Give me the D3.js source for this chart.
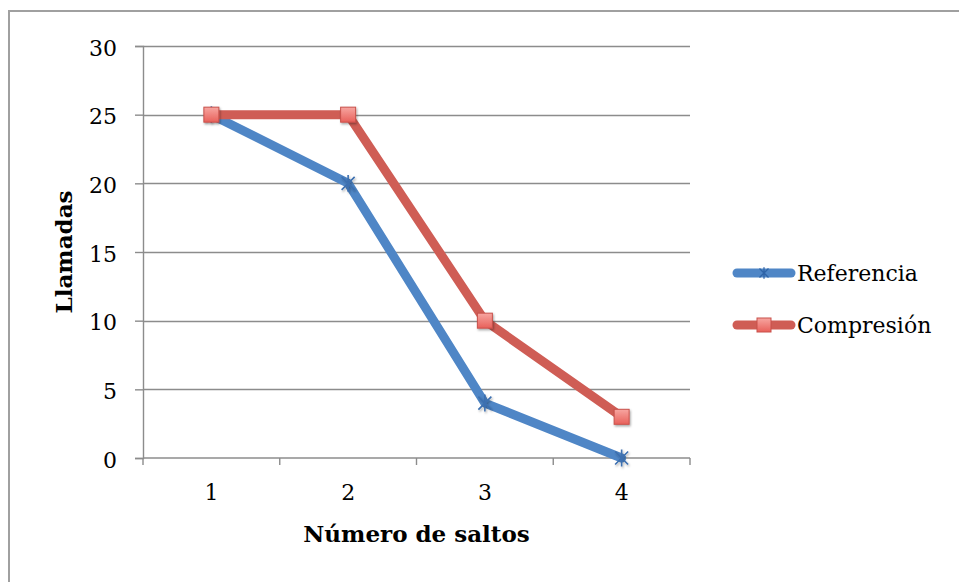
<!DOCTYPE html>
<html>
<head>
<meta charset="utf-8">
<script src="https://cdn.jsdelivr.net/npm/d3@7"></script>
<style>
  body { margin: 0; background: #fff; }
  svg { display: block; }
  text { font-family: "DejaVu Serif", "Liberation Serif", serif; fill: #000; }
</style>
</head>
<body>
<div class="chart-wrapper"></div>
<script>
const categories = ['1', '2', '3', '4']
const referencia = [25, 20, 4, 0]
const compresion = [25, 25, 10, 3]
const yTicks = [0, 5, 10, 15, 20, 25, 30]
const seriesNames = ['Referencia', 'Compresión']

let width = 959
let height = 582

let margin = {left: 143, right: 269, top: 46, bottom: 124}

let fontSize = 22
let lineWidth = 9

let svg = d3.select('.chart-wrapper').append('svg')
.attr('width', width)
.attr('height', height)

// drop shadow for markers
let defs = svg.append('defs')
defs.append('filter')
.attr('id', 'shadow')
.attr('x', '-50%').attr('y', '-50%').attr('width', '200%').attr('height', '200%')
.append('feDropShadow')
.attr('dx', 1).attr('dy', 1.5).attr('stdDeviation', 1.2)
.attr('flood-color', '#000').attr('flood-opacity', 0.35)

let grad = defs.append('linearGradient')
.attr('id', 'redfill')
.attr('x1', 0).attr('y1', 0).attr('x2', 0).attr('y2', 1)
grad.append('stop').attr('offset', '0%').attr('stop-color', '#f7a6a1')
grad.append('stop').attr('offset', '100%').attr('stop-color', '#e8605a')

// outer frame (right and bottom edges fall outside the picture)
svg.append('rect')
.attr('x', 9).attr('y', 11)
.attr('width', 1000).attr('height', 700)
.attr('fill', 'none')
.attr('stroke', '#a0a0a0')
.attr('stroke-width', 2)

let x = d3.scaleBand()
.domain(categories)
.range([margin.left, width - margin.right])
.padding(0)

let y = d3.scaleLinear()
.domain([0, 30])
.range([height - margin.bottom, margin.top])

// gridlines
svg.append('g')
.selectAll('line')
.data(yTicks.filter(d => d > 0))
.enter()
.append('line')
.attr('x1', margin.left)
.attr('x2', width - margin.right)
.attr('y1', d => Math.round(y(d)) + 0.5)
.attr('y2', d => Math.round(y(d)) + 0.5)
.attr('stroke', '#8c8c8c')
.attr('stroke-width', 1.4)

// y axis
let yAxis = svg.append('g')
.attr('transform', 'translate(' + margin.left + ',0)')
.call(d3.axisLeft(y).tickValues(yTicks).tickSize(8).tickPadding(18))
yAxis.select('.domain').attr('stroke', '#8c8c8c').attr('stroke-width', 1.4)
yAxis.selectAll('.tick line').attr('stroke', '#8c8c8c').attr('stroke-width', 1.4)
yAxis.selectAll('.tick text')
.attr('font-size', fontSize)
.attr('dy', '0.42em')
.attr('fill', '#000')

// x axis
let xAxisG = svg.append('g')
.attr('transform', 'translate(0,' + y(0) + ')')
xAxisG.append('line')
.attr('x1', margin.left).attr('x2', width - margin.right)
.attr('y1', 0).attr('y2', 0)
.attr('stroke', '#8c8c8c').attr('stroke-width', 1.4)
let boundaries = categories.map(c => x(c)).concat([x(categories[categories.length - 1]) + x.bandwidth()])
xAxisG.selectAll('.xtick')
.data(boundaries)
.enter()
.append('line')
.attr('x1', d => d).attr('x2', d => d)
.attr('y1', 0).attr('y2', 7)
.attr('stroke', '#8c8c8c').attr('stroke-width', 1.4)
xAxisG.selectAll('.xlabel')
.data(categories)
.enter()
.append('text')
.attr('x', d => x(d) + x.bandwidth() / 2)
.attr('y', 36)
.attr('text-anchor', 'middle')
.attr('dominant-baseline', 'middle')
.attr('font-size', fontSize)
.text(d => d)

// axis titles
svg.append('text')
.attr('transform', 'translate(66,' + (margin.top + (height - margin.bottom - margin.top) / 2) + ') rotate(-90)')
.attr('text-anchor', 'middle')
.attr('dominant-baseline', 'middle')
.attr('font-size', 23)
.attr('font-weight', 'bold')
.text('Llamadas')

svg.append('text')
.attr('x', margin.left + (width - margin.right - margin.left) / 2)
.attr('y', 536)
.attr('text-anchor', 'middle')
.attr('dominant-baseline', 'middle')
.attr('font-size', 23)
.attr('font-weight', 'bold')
.text('Número de saltos')

// series
let line = d3.line()
.x((d, i) => x(categories[i]) + x.bandwidth() / 2)
.y(d => y(d))

let blue = '#4f86c6'
let red = '#cf5d55'

function starPath(s){
	return 'M' + (-s) + ',' + (-s) + 'L' + s + ',' + s +
	'M' + (-s) + ',' + s + 'L' + s + ',' + (-s) +
	'M0,' + (-s * 1.3) + 'L0,' + (s * 1.3)
}

let refG = svg.append('g')
refG.append('path')
.attr('d', line(referencia))
.attr('fill', 'none')
.attr('stroke', blue)
.attr('stroke-width', lineWidth)
.attr('stroke-linejoin', 'round')
.attr('stroke-linecap', 'round')
refG.selectAll('path.marker')
.data(referencia)
.enter()
.append('path')
.attr('class', 'marker')
.attr('transform', (d, i) => 'translate(' + (x(categories[i]) + x.bandwidth() / 2) + ',' + y(d) + ')')
.attr('d', starPath(6.5))
.attr('stroke', '#3c6fb0')
.attr('stroke-width', 1.6)
.attr('fill', 'none')
.attr('filter', 'url(#shadow)')

let compG = svg.append('g')
compG.append('path')
.attr('d', line(compresion))
.attr('fill', 'none')
.attr('stroke', red)
.attr('stroke-width', lineWidth)
.attr('stroke-linejoin', 'round')
.attr('stroke-linecap', 'round')
compG.selectAll('rect')
.data(compresion)
.enter()
.append('rect')
.attr('x', (d, i) => x(categories[i]) + x.bandwidth() / 2 - 7.5)
.attr('y', d => y(d) - 7.5)
.attr('width', 15)
.attr('height', 15)
.attr('fill', 'url(#redfill)')
.attr('stroke', '#c8504a')
.attr('stroke-width', 1)
.attr('filter', 'url(#shadow)')

// legend
let legend = svg.append('g')
let legendY = [273, 325]
seriesNames.forEach((name, i) => {
	let g = legend.append('g').attr('transform', 'translate(0,' + legendY[i] + ')')
	g.append('line')
	.attr('x1', 737).attr('x2', 791)
	.attr('y1', 0).attr('y2', 0)
	.attr('stroke', i == 0 ? blue : red)
	.attr('stroke-width', lineWidth)
	.attr('stroke-linecap', 'round')
	if(i == 0){
		g.append('path')
		.attr('transform', 'translate(764,0)')
		.attr('d', starPath(4.5))
		.attr('stroke', '#2f64a8')
		.attr('stroke-width', 1.3)
		.attr('fill', 'none')
	}
	else{
		g.append('rect')
		.attr('x', 757).attr('y', -7)
		.attr('width', 14).attr('height', 14)
		.attr('fill', 'url(#redfill)')
		.attr('stroke', '#c8504a')
		.attr('stroke-width', 1)
	}
	g.append('text')
	.attr('x', 797)
	.attr('y', 2)
	.attr('dominant-baseline', 'middle')
	.attr('font-size', fontSize)
	.text(name)
})
</script>
</body>
</html>
